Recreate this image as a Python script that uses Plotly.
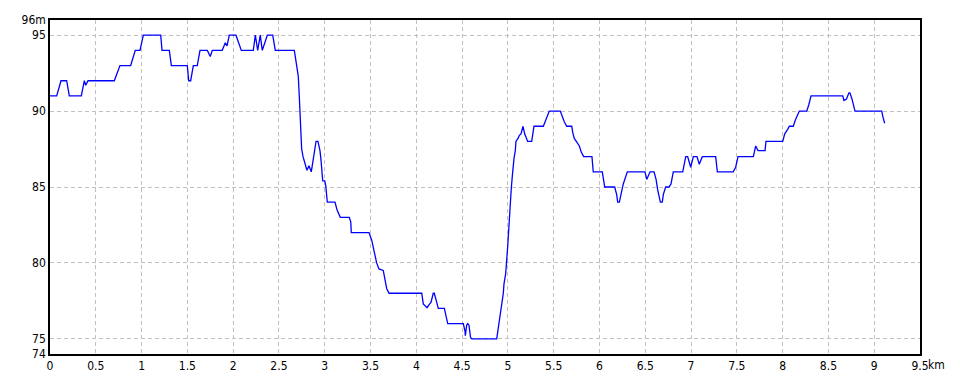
import plotly.graph_objects as go

dist_km = [0.000, 0.073, 0.120, 0.182, 0.211, 0.342, 0.375, 0.390, 0.415, 0.702,
           0.764, 0.881, 0.931, 0.983, 1.019, 1.209, 1.223, 1.303, 1.325, 1.499,
           1.515, 1.536, 1.565, 1.608, 1.638, 1.718, 1.750, 1.772, 1.881, 1.914,
           1.933, 1.958, 2.031, 2.089, 2.220, 2.242, 2.268, 2.296, 2.318, 2.373,
           2.432, 2.460, 2.668, 2.681, 2.697, 2.711, 2.722, 2.730, 2.737, 2.748,
           2.763, 2.774, 2.806, 2.828, 2.853, 2.869, 2.886, 2.905, 2.926, 2.948,
           2.959, 2.967, 2.978, 3.000, 3.011, 3.028, 3.112, 3.134, 3.170, 3.268,
           3.284, 3.290, 3.483, 3.513, 3.538, 3.567, 3.592, 3.639, 3.658, 3.677,
           3.702, 4.059, 4.076, 4.117, 4.146, 4.160, 4.185, 4.196, 4.223, 4.240,
           4.306, 4.321, 4.343, 4.513, 4.532, 4.535, 4.550, 4.561, 4.575, 4.592,
           4.605, 4.878, 4.895, 4.914, 4.932, 4.950, 4.957, 4.976, 4.998, 5.009,
           5.023, 5.037, 5.048, 5.056, 5.067, 5.081, 5.088, 5.110, 5.125, 5.143,
           5.157, 5.165, 5.183, 5.201, 5.216, 5.260, 5.271, 5.285, 5.387, 5.408,
           5.427, 5.452, 5.572, 5.594, 5.616, 5.642, 5.697, 5.708, 5.725, 5.747,
           5.780, 5.801, 5.827, 5.918, 5.932, 6.031, 6.057, 6.166, 6.188, 6.199,
           6.217, 6.238, 6.260, 6.304, 6.497, 6.516, 6.552, 6.596, 6.618, 6.636,
           6.654, 6.665, 6.686, 6.697, 6.723, 6.759, 6.781, 6.806, 6.909, 6.931,
           6.942, 6.963, 6.996, 7.025, 7.065, 7.090, 7.123, 7.269, 7.287, 7.461,
           7.487, 7.513, 7.680, 7.706, 7.731, 7.808, 7.818, 8.001, 8.023, 8.055,
           8.073, 8.116, 8.138, 8.182, 8.263, 8.285, 8.310, 8.656, 8.670, 8.697,
           8.724, 8.735, 8.757, 8.790, 9.082, 9.096, 9.114]

elev_m = [91, 91, 92, 92, 91, 91, 92, 91.7, 92, 92,
          93, 93, 94, 94, 95, 95, 94, 94, 93, 93,
          92, 92, 93, 93, 94, 94, 93.6, 94, 94, 94.5,
          94.3, 95, 95, 94, 94, 95, 94, 95, 94, 95,
          95, 94, 94, 93.5, 93, 92.3, 91, 89.7, 88.5, 87.5,
          87, 86.8, 86.1, 86.4, 86, 86.6, 87.4, 88, 88, 87.4,
          86.8, 85.8, 85.4, 85.4, 85.1, 84, 84, 83.5, 83, 83,
          82.7, 82, 82, 81.5, 80.8, 80, 79.6, 79.5, 78.9, 78.3,
          78, 78, 77.3, 77.05, 77.3, 77.4, 78, 78, 77.4, 77,
          77, 76.5, 76, 76, 75.5, 75.2, 75.9, 76, 75.9, 75.1,
          75, 75, 75.7, 76.2, 77.1, 78, 78.6, 79.3, 81.1, 82.4,
          83.8, 84.9, 85.7, 86.3, 86.9, 87.4, 88, 88.2, 88.4, 88.5,
          88.8, 89, 88.5, 88.2, 88, 88, 88.5, 89, 89, 89.3,
          89.6, 90, 90, 89.6, 89.3, 89, 89, 88.6, 88.2, 88,
          87.7, 87.3, 87, 87, 86, 86, 85, 85, 84.5, 84,
          84, 84.6, 85.2, 86, 86, 85.5, 86, 86, 85.5, 84.8,
          84.25, 84, 84, 84.5, 85, 85, 85.2, 86, 86, 86.7,
          87, 87, 86.3, 87, 87, 86.5, 87, 87, 86, 86,
          86.3, 87, 87, 87.7, 87.4, 87.4, 88, 88, 88.5, 88.8,
          89, 89, 89.4, 90, 90, 90.4, 91, 91, 90.7, 90.8,
          91.2, 91.2, 90.8, 90, 90, 89.6, 89.2]

x_ticks = [0, 0.5, 1, 1.5, 2, 2.5, 3, 3.5, 4, 4.5, 5, 5.5, 6, 6.5, 7, 7.5, 8, 8.5, 9, 9.5]
x_labels = ["0", "0.5", "1", "1.5", "2", "2.5", "3", "3.5", "4", "4.5", "5", "5.5",
            "6", "6.5", "7", "7.5", "8", "8.5", "9", "9.5"]
y_ticks = [74, 75, 80, 85, 90, 95, 96]
y_labels = ["74", "75", "80", "85", "90", "95", "96m"]

FONT = "Liberation Sans Narrow, DejaVu Sans Condensed, Arial Narrow, sans-serif"

fig = go.Figure()
fig.add_trace(go.Scatter(x=dist_km, y=elev_m, mode="lines",
                         line=dict(color="#0000ff", width=1.3),
                         hoverinfo="skip", showlegend=False))

fig.update_layout(
    width=960, height=384,
    margin=dict(l=50, r=40, t=20, b=30),
    paper_bgcolor="white", plot_bgcolor="white",
    font=dict(family=FONT, size=12, color="black"),
    showlegend=False,
)
fig.update_xaxes(
    range=[0, 9.5], tickmode="array", tickvals=x_ticks, ticktext=x_labels,
    showgrid=True, gridcolor="#c0c0c0", griddash="4px,3px", gridwidth=1,
    showline=True, linecolor="black", linewidth=1.5, mirror=True,
    ticks="", zeroline=False, tickfont=dict(family=FONT, size=12),
)
fig.update_yaxes(
    range=[74, 96], tickmode="array", tickvals=y_ticks, ticktext=y_labels,
    showgrid=True, gridcolor="#c0c0c0", griddash="4px,3px", gridwidth=1,
    showline=True, linecolor="black", linewidth=1.5, mirror=True,
    ticks="", zeroline=False, tickfont=dict(family=FONT, size=12),
)
fig.add_annotation(text="km", x=9.5, xref="x", y=0, yref="paper",
                   xanchor="left", yanchor="top", xshift=6, yshift=-2,
                   showarrow=False, font=dict(family=FONT, size=12, color="black"))

fig.write_html("out.html")
